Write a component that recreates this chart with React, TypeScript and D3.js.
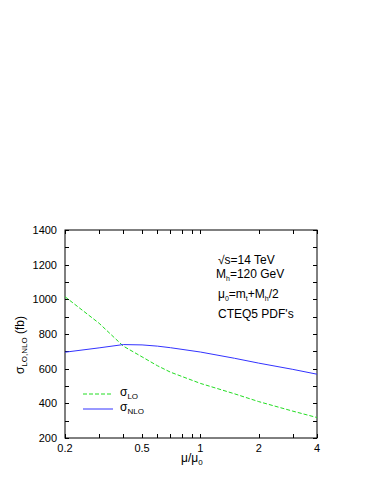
import React, { useRef, useEffect } from "react";
import * as d3 from "d3";

// scale factor mu/mu0 where the curves were sampled
const muValues = [0.2, 0.3, 0.4, 0.5, 0.6, 0.7, 1, 1.5, 2, 3, 4];
// sigma LO (fb)
const sigmaLO = [1015, 862, 730, 668, 617, 580, 515, 455, 410, 355, 318];
// sigma NLO (fb)
const sigmaNLO = [695, 720, 739, 737, 730, 721, 696, 660, 632, 596, 568];

const xTickLabels = [0.2, 0.5, 1, 2, 4];
const xMinorTicks = [0.3, 0.4, 0.6, 0.7, 0.8, 0.9, 3];
const yTickLabels = [200, 400, 600, 800, 1000, 1200, 1400];
const yMinorTicks = [300, 500, 700, 900, 1100, 1300];

const W = 383, H = 495;
const margin = { top: 230, right: 66, bottom: 57, left: 65 };

export default function App() {
    const svgRef = useRef<SVGSVGElement | null>(null);

    useEffect(() => {
        const svg = d3.select(svgRef.current);
        svg.selectAll("*").remove();
        const font = "'Liberation Sans', Arial, Helvetica, sans-serif";

        const x = d3.scaleLog().domain([0.2, 4]).range([margin.left, W - margin.right]);
        const y = d3.scaleLinear().domain([200, 1400]).range([H - margin.bottom, margin.top]);
        const [x0, x1] = x.range();
        const [y0, y1] = y.range();

        // frame
        svg.append("rect")
            .attr("x", x0).attr("y", y1)
            .attr("width", x1 - x0).attr("height", y0 - y1)
            .attr("fill", "none").attr("stroke", "#000").attr("stroke-width", 1);

        const tl = 4;
        const ticks = svg.append("g").attr("stroke", "#000").attr("stroke-width", 1);
        [...xTickLabels, ...xMinorTicks].forEach((t) => {
            const px = Math.round(x(t)) + 0.5;
            ticks.append("line").attr("x1", px).attr("x2", px).attr("y1", y0).attr("y2", y0 - tl);
            ticks.append("line").attr("x1", px).attr("x2", px).attr("y1", y1).attr("y2", y1 + tl);
        });
        [...yTickLabels, ...yMinorTicks].forEach((t) => {
            const py = Math.round(y(t)) + 0.5;
            ticks.append("line").attr("x1", x0).attr("x2", x0 + tl).attr("y1", py).attr("y2", py);
            ticks.append("line").attr("x1", x1).attr("x2", x1 - tl).attr("y1", py).attr("y2", py);
        });

        // tick labels
        svg.append("g").selectAll("text").data(xTickLabels).join("text")
            .attr("x", (d) => x(d)).attr("y", y0 + 14)
            .attr("text-anchor", "middle")
            .attr("font-family", font).attr("font-size", 11)
            .text((d) => String(d));
        svg.append("g").selectAll("text").data(yTickLabels).join("text")
            .attr("x", x0 - 8).attr("y", (d) => y(d) + 4)
            .attr("text-anchor", "end")
            .attr("font-family", font).attr("font-size", 11)
            .text((d) => String(d));

        // curves
        const line = d3.line<number>()
            .x((d, i) => x(muValues[i]))
            .y((d) => y(d));
        svg.append("path").datum(sigmaLO)
            .attr("fill", "none").attr("stroke", "#22dd22").attr("stroke-width", 1)
            .attr("stroke-dasharray", "4,2")
            .attr("d", line);
        svg.append("path").datum(sigmaNLO)
            .attr("fill", "none").attr("stroke", "#3333ff").attr("stroke-width", 1)
            .attr("d", line);

        // legend
        const lg = svg.append("g");
        lg.append("line").attr("x1", 83).attr("x2", 113).attr("y1", 394).attr("y2", 394)
            .attr("stroke", "#22dd22").attr("stroke-dasharray", "4,2");
        lg.append("line").attr("x1", 83).attr("x2", 113).attr("y1", 409).attr("y2", 409)
            .attr("stroke", "#3333ff");
        const l1 = lg.append("text").attr("x", 120).attr("y", 396)
            .attr("font-family", font).attr("font-size", 12);
        l1.append("tspan").text("σ");
        l1.append("tspan").attr("dy", 3).attr("font-size", 8).text("LO");
        const l2 = lg.append("text").attr("x", 120).attr("y", 411)
            .attr("font-family", font).attr("font-size", 12);
        l2.append("tspan").text("σ");
        l2.append("tspan").attr("dy", 3).attr("font-size", 8).text("NLO");

        // annotations
        const ann = svg.append("g").attr("font-family", font).attr("font-size", 12);
        ann.append("text").attr("x", 218).attr("y", 264).text("√s=14 TeV");
        const a2 = ann.append("text").attr("x", 216).attr("y", 278);
        a2.append("tspan").text("M");
        a2.append("tspan").attr("dy", 3).attr("font-size", 7).text("h");
        a2.append("tspan").attr("dy", -3).text("=120 GeV");
        const a3 = ann.append("text").attr("x", 218).attr("y", 298);
        a3.append("tspan").text("μ");
        a3.append("tspan").attr("dy", 3).attr("font-size", 7).text("0");
        a3.append("tspan").attr("dy", -3).text("=m");
        a3.append("tspan").attr("dy", 3).attr("font-size", 7).text("t");
        a3.append("tspan").attr("dy", -3).text("+M");
        a3.append("tspan").attr("dy", 3).attr("font-size", 7).text("h");
        a3.append("tspan").attr("dy", -3).text("/2");
        ann.append("text").attr("x", 218).attr("y", 318).text("CTEQ5 PDF's");

        // axis titles
        const xt = svg.append("text").attr("x", 181).attr("y", 462)
            .attr("font-family", font).attr("font-size", 12);
        xt.append("tspan").text("μ/μ");
        xt.append("tspan").attr("dy", 3).attr("font-size", 8).text("0");

        const yt = svg.append("text")
            .attr("transform", "translate(24,345) rotate(-90)")
            .attr("text-anchor", "middle")
            .attr("font-family", font).attr("font-size", 12);
        yt.append("tspan").text("σ");
        yt.append("tspan").attr("dy", 3).attr("font-size", 8).text("LO,NLO");
        yt.append("tspan").attr("dy", -3).text(" (fb)");
    }, []);

    return (
        <svg ref={svgRef} width={W} height={H}
            style={{ position: "absolute", left: 0, top: 0, background: "#fff" }} />
    );
}
